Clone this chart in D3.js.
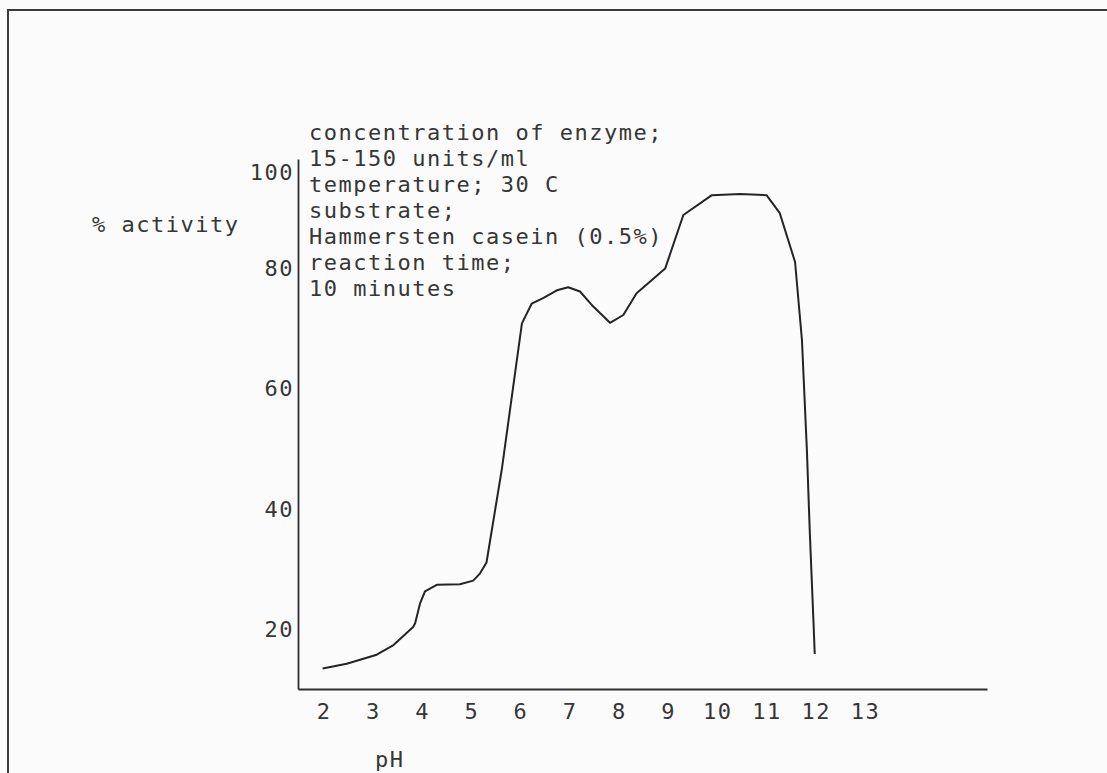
<!DOCTYPE html>
<html>
<head>
<meta charset="utf-8">
<script src="https://cdn.jsdelivr.net/npm/d3@7"></script>
<style>
  html, body { margin: 0; padding: 0; background: #fbfbfb; }
  svg { display: block; }
  text { font-family: "DejaVu Sans Mono", "Liberation Mono", monospace; font-size: 22px; fill: #363636; letter-spacing: 1.5px; }
</style>
</head>
<body>
<svg id="chart" width="1107" height="773"></svg>
<script>
// pH activity profile of the protease
const phValues = [2.0, 2.49, 3.10, 3.44, 3.84, 3.88, 3.98, 4.08, 4.32, 4.79, 5.06, 5.20, 5.33, 5.64,
                  6.05, 6.25, 6.48, 6.76, 6.99, 7.23, 7.50, 7.84, 8.11, 8.38, 8.65, 8.96, 9.33,
                  9.91, 10.48, 11.02, 11.29, 11.60, 11.74, 11.84, 11.90, 11.97, 12.0];
const activity = [13.4, 14.2, 15.7, 17.3, 20.3, 20.9, 24.2, 26.2, 27.3, 27.4, 28.0, 29.2, 31.0, 46.4,
                  70.7, 74.0, 74.9, 76.2, 76.7, 76.0, 73.5, 70.8, 72.1, 75.7, 77.6, 79.8, 88.7,
                  92.0, 92.2, 92.0, 89.0, 80.9, 67.9, 49.7, 35.9, 22.0, 15.8];

const xTicks = [2, 3, 4, 5, 6, 7, 8, 9, 10, 11, 12, 13];
const yTicks = [20, 40, 60, 80, 100];
const xDomain = [1.5, 15.5];
const yDomain = [10, 98];

const notes = [
  "concentration of enzyme;",
  "15-150 units/ml",
  "temperature; 30 C",
  "substrate;",
  "Hammersten casein (0.5%)",
  "reaction time;",
  "10 minutes"
];
const yTitle = "% activity";
const xTitle = "pH";

const svg = d3.select("#chart");
const ink = "#2e2e2e";

// page frame
svg.append("rect")
  .attr("x", 8).attr("y", 10).attr("width", 1120).attr("height", 800)
  .attr("fill", "none").attr("stroke", "#3c3c3c").attr("stroke-width", 2);

const x = d3.scaleLinear().domain(xDomain).range([298, 987]);
const y = d3.scaleLinear().domain(yDomain).range([689, 159]);

// x axis: baseline with numbers underneath, no tick marks
const gx = svg.append("g")
  .attr("transform", `translate(0,${y(yDomain[0])})`)
  .call(d3.axisBottom(x).tickValues(xTicks).tickSize(0).tickSizeOuter(0).tickPadding(10)
        .tickFormat(d3.format("d")));
gx.select(".domain").attr("stroke", ink).attr("stroke-width", 1.8);
gx.selectAll(".tick text")
  .attr("font-family", null).attr("font-size", null)
  .attr("dy", "0.92em").attr("dx", "1px");

// y axis: vertical line with numbers on its left
const gy = svg.append("g")
  .attr("transform", `translate(${x(xDomain[0])},0)`)
  .call(d3.axisLeft(y).tickValues(yTicks.filter(v => v <= yDomain[1])).tickSize(0).tickSizeOuter(0)
        .tickPadding(4).tickFormat(d3.format("d")));
gy.select(".domain").attr("stroke", ink).attr("stroke-width", 1.8);
gy.selectAll(".tick text").attr("font-family", null).attr("font-size", null).attr("dy", "0.36em");

// the top label sits just under the end of the axis
const topLabel = yTicks.filter(v => v > yDomain[1]);
gy.selectAll(".top-label").data(topLabel).join("text")
  .attr("class", "top-label")
  .attr("x", -4).attr("y", y(yDomain[1]) + 13)
  .attr("dy", "0.36em")
  .attr("text-anchor", "end")
  .text(d => d);

// activity curve
const line = d3.line().x((d, i) => x(phValues[i])).y(d => y(d));
svg.append("path")
  .datum(activity)
  .attr("d", line)
  .attr("fill", "none")
  .attr("stroke", "#242424")
  .attr("stroke-width", 2)
  .attr("stroke-linejoin", "round");

// assay conditions
svg.append("g").selectAll("text").data(notes).join("text")
  .attr("x", 309)
  .attr("y", (d, i) => 140 + i * 26)
  .text(d => d);

// axis titles
svg.append("text").attr("x", 92).attr("y", 232).text(yTitle);
svg.append("text").attr("x", 375).attr("y", 767).text(xTitle);
</script>
</body>
</html>
